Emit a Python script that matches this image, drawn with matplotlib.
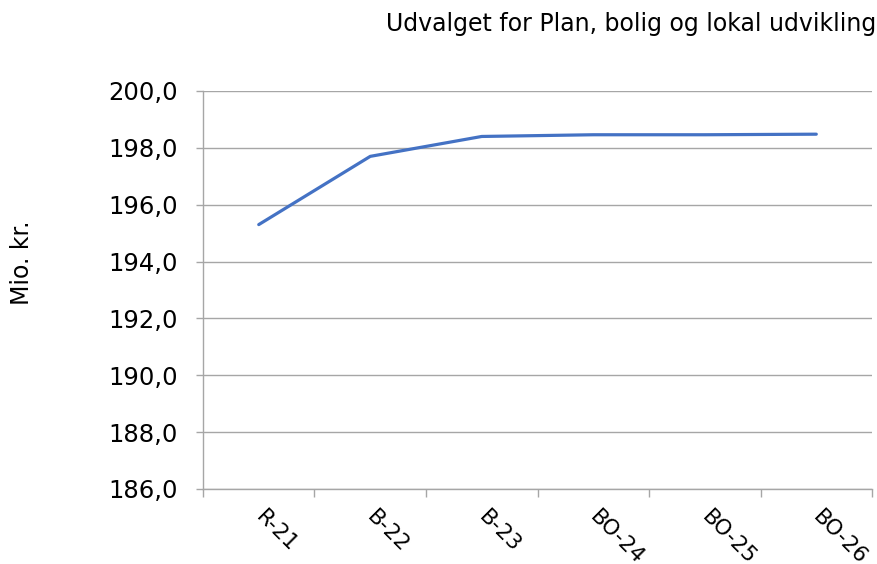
import matplotlib
matplotlib.use("Agg")
import matplotlib.pyplot as plt
from matplotlib.ticker import FuncFormatter, FixedLocator

categories = ["R-21", "B-22", "B-23", "BO-24", "BO-25", "BO-26"]
values = [195.3, 197.7, 198.4, 198.46, 198.46, 198.48]
y_ticks = [186, 188, 190, 192, 194, 196, 198, 200]

title = "Udvalget for Plan, bolig og lokal udvikling"
y_label = "Mio. kr."

plt.rcParams["font.family"] = ["DejaVu Sans"]

fig = plt.figure(figsize=(8.78, 5.64), dpi=100)
ax = fig.add_axes([0.2312, 0.1330, 0.7620, 0.7057])

x = list(range(len(categories)))
ax.plot(x, values, color="#4472C4", linewidth=2.3, solid_capstyle="round",
        solid_joinstyle="round", zorder=3)

ax.set_xlim(-0.5, len(categories) - 0.5)
ax.set_ylim(186, 200)

grid_col = "#a6a6a6"
ax.set_yticks(y_ticks)
ax.yaxis.set_major_formatter(FuncFormatter(lambda v, p: f"{v:.1f}".replace(".", ",")))
ax.yaxis.grid(True, color=grid_col, linewidth=1.0)
ax.set_axisbelow(True)

# category labels start at the category centre, tick marks on category boundaries
ax.set_xticks(x)
ax.set_xticklabels(categories, rotation=-45, rotation_mode="anchor",
                   ha="left", va="center", fontsize=15.5)
ax.xaxis.set_minor_locator(FixedLocator([i - 0.5 for i in range(len(categories) + 1)]))
ax.tick_params(axis="x", which="major", length=0, pad=18)
ax.tick_params(axis="x", which="minor", length=6, color=grid_col, width=1.0)
ax.tick_params(axis="y", length=5, color=grid_col, width=1.0, labelsize=17.5, pad=13)

for side in ("top", "right"):
    ax.spines[side].set_visible(False)
for side in ("left", "bottom"):
    ax.spines[side].set_color(grid_col)
    ax.spines[side].set_linewidth(1.0)

fig.text(0.9977, 0.957, title, ha="right", va="center", fontsize=17)
fig.text(0.025, 0.535, y_label, rotation=90, ha="center", va="center", fontsize=17)

fig.savefig("out.png", dpi=100)
